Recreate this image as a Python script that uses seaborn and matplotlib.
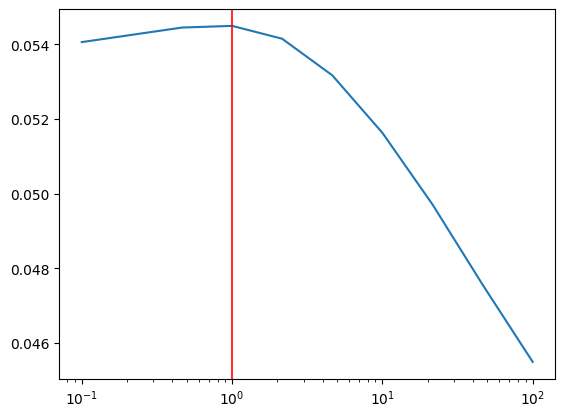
import matplotlib
matplotlib.use("Agg")
import matplotlib.pyplot as plt
import seaborn as sns
import pandas as pd

alphas = [0.1, 0.2154, 0.4642, 1.0, 2.154, 4.642, 10.0, 21.54, 46.42, 100.0]
scores = [0.054060, 0.054255, 0.054450, 0.054495, 0.054150, 0.053170,
          0.051630, 0.049710, 0.047560, 0.045490]
best_alpha = 1.0

df = pd.DataFrame({"alpha": alphas, "score": scores})

fig, ax = plt.subplots(figsize=(6.4, 4.8), dpi=100)
sns.lineplot(data=df, x="alpha", y="score", ax=ax)
ax.set_xscale("log")
ax.axvline(best_alpha, color="red", alpha=0.8)
ax.set_xlabel("")
ax.set_ylabel("")
fig.savefig("out.png", bbox_inches="tight")
